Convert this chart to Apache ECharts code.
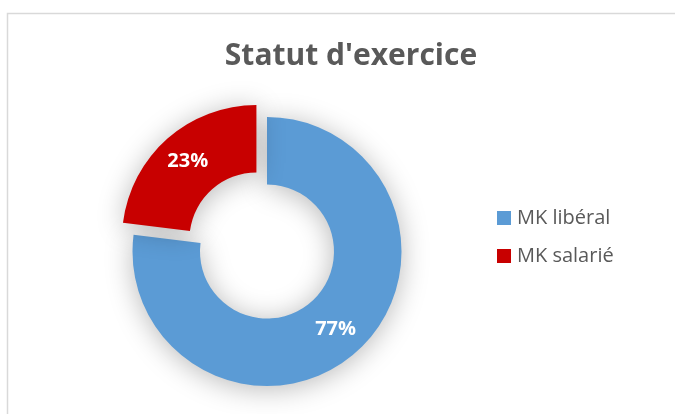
<!DOCTYPE html>
<html><head><meta charset="utf-8">
<script src="https://cdn.jsdelivr.net/npm/echarts@6/dist/echarts.min.js"></script>
<style>html,body{margin:0;padding:0;background:#fff}#c{width:675px;height:414px}</style>
</head><body><div id="c"></div>
<script>
const title = "Statut d'exercice";
const categories = ["MK libéral", "MK salarié"];
const values = [77, 23];
const colors = ["#5B9BD5", "#C80000"];

const chart = echarts.init(document.getElementById('c'));
chart.setOption({
  animation: false,
  backgroundColor: '#fff',
  title: {
    text: title, left: 346, top: 36, textAlign: 'center',
    textStyle: {fontFamily: 'Open Sans', fontWeight: 'bold', fontSize: 30, color: '#595959'}
  },
  legend: {
    orient: 'vertical', left: 497, top: 208, itemWidth: 14, itemHeight: 14, itemGap: 18,
    icon: 'rect', padding: 0,
    textStyle: {fontFamily: 'Open Sans', fontSize: 20, lineHeight: 20, color: '#595959', padding: [0,0,0,1]},
    data: categories
  },
  graphic: [{
    type: 'rect', shape: {x: 7.5, y: 13.5, width: 700, height: 450},
    style: {fill: 'none', stroke: '#D9D9D9', lineWidth: 1.5}, silent: true, z: -10
  }],
  series: [{
    type: 'pie', center: [267, 251.5], radius: [67, 134.5], startAngle: 90, clockwise: true,
    selectedMode: 'single', selectedOffset: 16,
    label: {show: true, position: 'inside', formatter: '{d}%',
      fontFamily: 'Open Sans', fontWeight: 'bold', fontSize: 20, color: '#fff'},
    labelLine: {show: false},
    itemStyle: {shadowBlur: 28, shadowColor: 'rgba(0,0,0,0.28)', shadowOffsetX: 0, shadowOffsetY: 3},
    emphasis: {disabled: true},
    data: categories.map((c, i) => ({name: c, value: values[i], selected: i === 1,
      itemStyle: {color: colors[i]}}))
  }]
});
</script></body></html>
